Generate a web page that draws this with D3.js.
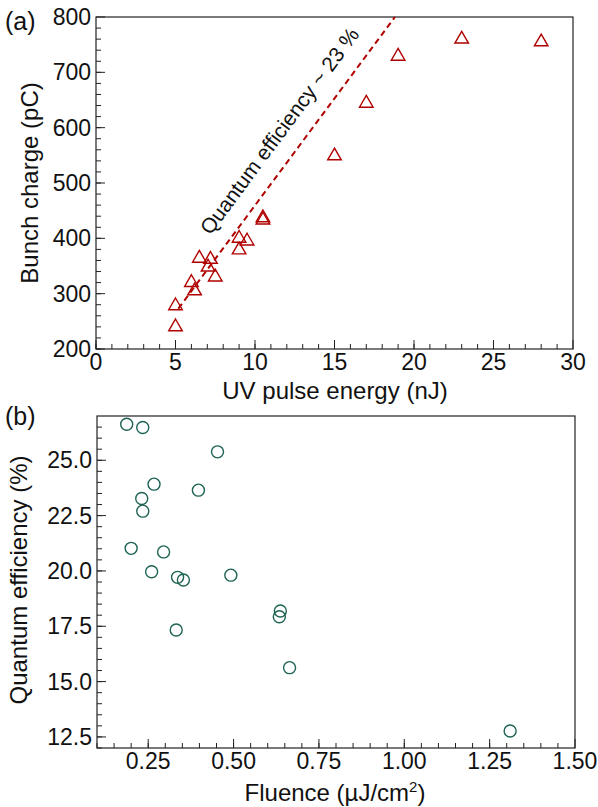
<!DOCTYPE html>
<html>
<head>
<meta charset="utf-8">
<script src="https://cdn.jsdelivr.net/npm/d3@7"></script>
<style>
  body { margin: 0; background: #fff; }
  svg text { font-family: "Liberation Sans", Arial, sans-serif; fill: #111; }
</style>
</head>
<body>
<div id="chart"></div>
<script>
// panel (a): UV pulse energy (nJ) vs bunch charge (pC)
var energy = [5, 5, 6, 6.2, 6.5, 7.05, 7.2, 7.5, 9, 9, 9.5, 10.5, 10.5, 15, 17, 19, 23, 28];
var charge = [278, 240, 320, 305, 364, 348, 362, 330, 400, 379, 395, 433, 437, 549, 644, 729, 760, 755];
// dashed guide line (QE ~ 23 %)
var fitX = [5.18, 18.8];
var fitY = [273, 800];
var xTicksA = [0, 5, 10, 15, 20, 25, 30];
var yTicksA = [200, 300, 400, 500, 600, 700, 800];

// panel (b): fluence (uJ/cm2) vs quantum efficiency (%)
var fluence = [0.187, 0.234, 0.453, 0.267, 0.397, 0.231, 0.234, 0.2, 0.295, 0.26, 0.336, 0.353, 0.492, 0.332, 0.637, 0.634, 0.664, 1.31];
var qe = [26.63, 26.48, 25.38, 23.92, 23.65, 23.27, 22.7, 21.02, 20.86, 19.96, 19.71, 19.59, 19.81, 17.33, 18.19, 17.93, 15.63, 12.77];
var xTicksB = [0.25, 0.5, 0.75, 1.0, 1.25, 1.5];
var yTicksB = [12.5, 15.0, 17.5, 20.0, 22.5, 25.0];

function init(){

    var W = 598, H = 807;
    var red = "#b00000";
    var green = "#1d6353";

    var svg = d3.select("#chart")
                .append("svg")
                .attr("width", W)
                .attr("height", H);

    // draws box, inward ticks (major + minor) and labels
    function frame(g, x, y, xMaj, xMin, yMaj, yMin, xFmt, yFmt){
        var x0 = x.range()[0], x1 = x.range()[1];
        var y0 = y.range()[0], y1 = y.range()[1];

        g.append("rect")
            .attr("x", x0).attr("y", y1)
            .attr("width", x1 - x0).attr("height", y0 - y1)
            .attr("fill", "none")
            .attr("stroke", "#222")
            .attr("stroke-width", 1.2);

        g.selectAll(".xmin").data(xMin).enter().append("line")
            .attr("x1", function(d){ return x(d); })
            .attr("x2", function(d){ return x(d); })
            .attr("y1", y0).attr("y2", y0 - 5)
            .attr("stroke", "#222");
        g.selectAll(".xmaj").data(xMaj).enter().append("line")
            .attr("x1", function(d){ return x(d); })
            .attr("x2", function(d){ return x(d); })
            .attr("y1", y0).attr("y2", y0 - 9)
            .attr("stroke", "#222");
        g.selectAll(".ymin").data(yMin).enter().append("line")
            .attr("y1", function(d){ return y(d); })
            .attr("y2", function(d){ return y(d); })
            .attr("x1", x0).attr("x2", x0 + 5)
            .attr("stroke", "#222");
        g.selectAll(".ymaj").data(yMaj).enter().append("line")
            .attr("y1", function(d){ return y(d); })
            .attr("y2", function(d){ return y(d); })
            .attr("x1", x0).attr("x2", x0 + 9)
            .attr("stroke", "#222");

        g.selectAll(".xlab").data(xMaj).enter().append("text")
            .attr("x", function(d){ return x(d); })
            .attr("y", y0 + 21)
            .attr("text-anchor", "middle")
            .attr("font-size", "23px")
            .text(xFmt);
        g.selectAll(".ylab").data(yMaj).enter().append("text")
            .attr("x", x0 - 5)
            .attr("y", function(d){ return y(d) + 8; })
            .attr("text-anchor", "end")
            .attr("font-size", "23px")
            .text(yFmt);
    }

    // ---------- panel (a)
    var xA = d3.scaleLinear().domain([0, 30]).range([96, 573]);
    var yA = d3.scaleLinear().domain([200, 800]).range([349, 17]);
    var gA = svg.append("g");

    frame(gA, xA, yA, xTicksA, d3.range(0, 30, 1),
          yTicksA, d3.range(200, 800, 20),
          function(d){ return d; }, function(d){ return d; });

    gA.append("line")
        .attr("x1", xA(fitX[0])).attr("y1", yA(fitY[0]))
        .attr("x2", xA(fitX[1])).attr("y2", yA(fitY[1]))
        .attr("stroke", red)
        .attr("stroke-width", 2)
        .attr("stroke-dasharray", "6,4");

    var ang = Math.atan2(yA(fitY[1]) - yA(fitY[0]), xA(fitX[1]) - xA(fitX[0])) * 180 / Math.PI;
    gA.append("text")
        .attr("transform", "translate(" + xA(7.2) + "," + yA(404) + ") rotate(" + ang + ")")
        .attr("font-size", "21px")
        .text("Quantum efficiency ~ 23 %");

    var tri = d3.symbol().type(d3.symbolTriangle).size(80);
    gA.selectAll("path.pt")
        .data(energy)
        .enter()
        .append("path")
        .attr("class", "pt")
        .attr("d", tri)
        .attr("transform", function(d, i){
            return "translate(" + xA(d) + "," + yA(charge[i]) + ")";
        })
        .attr("fill", "none")
        .attr("stroke", red)
        .attr("stroke-width", 1.4);

    gA.append("text")
        .attr("x", 335).attr("y", 399)
        .attr("text-anchor", "middle")
        .attr("font-size", "24px")
        .text("UV pulse energy (nJ)");
    gA.append("text")
        .attr("transform", "translate(38,183) rotate(-90)")
        .attr("text-anchor", "middle")
        .attr("font-size", "24px")
        .text("Bunch charge (pC)");
    gA.append("text")
        .attr("x", 5).attr("y", 30)
        .attr("font-size", "25px")
        .text("(a)");

    // ---------- panel (b)
    var xB = d3.scaleLinear().domain([0.1, 1.5]).range([97, 575]);
    var yB = d3.scaleLinear().domain([12, 27]).range([748, 416]);
    var gB = svg.append("g");

    frame(gB, xB, yB, xTicksB, d3.range(0.1, 1.5, 0.05),
          yTicksB, d3.range(12, 27, 0.5),
          d3.format(".2f"), d3.format(".1f"));

    gB.selectAll("circle")
        .data(fluence)
        .enter()
        .append("circle")
        .attr("cx", function(d){ return xB(d); })
        .attr("cy", function(d, i){ return yB(qe[i]); })
        .attr("r", 6)
        .attr("fill", "none")
        .attr("stroke", green)
        .attr("stroke-width", 1.4);

    var fl = gB.append("text")
        .attr("x", 335).attr("y", 801)
        .attr("text-anchor", "middle")
        .attr("font-size", "24px");
    fl.append("tspan").text("Fluence (\u00b5J/cm");
    fl.append("tspan").attr("dy", -9).attr("font-size", "15px").text("2");
    fl.append("tspan").attr("dy", 9).text(")");

    gB.append("text")
        .attr("transform", "translate(27,580) rotate(-90)")
        .attr("text-anchor", "middle")
        .attr("font-size", "24px")
        .text("Quantum efficiency (%)");
    gB.append("text")
        .attr("x", 5).attr("y", 425)
        .attr("font-size", "25px")
        .text("(b)");
}

window.onload = init;
</script>
</body>
</html>
